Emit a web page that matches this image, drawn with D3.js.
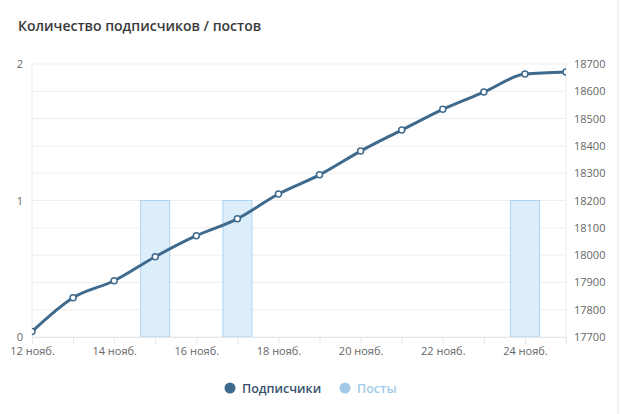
<!DOCTYPE html>
<html>
<head>
<meta charset="utf-8">
<script src="https://cdn.jsdelivr.net/npm/d3@7"></script>
<style>
  body { margin: 0; background: #fff; font-family: "Open Sans", sans-serif; }
  #chart { width: 620px; height: 414px; }
</style>
</head>
<body>
<div id="chart"></div>
<script>
// data
var days = ["12", "13", "14", "15", "16", "17", "18", "19", "20", "21", "22", "23", "24", "25"];
var subscribers = [17720, 17844, 17906, 17994, 18071, 18133, 18224, 18294, 18381, 18458, 18534, 18597, 18663, 18671];
var posts = [0, 0, 0, 1, 0, 1, 0, 0, 0, 0, 0, 0, 1, 0];
var leftTicks = [0, 1, 2];
var rightTicks = [17700, 17800, 17900, 18000, 18100, 18200, 18300, 18400, 18500, 18600, 18700];
var labelDays = ["12", "14", "16", "18", "20", "22", "24"];

var W = 620, H = 414;
var m = {left: 32, right: 54, top: 64, bottom: 77};

var svg = d3.select("#chart").append("svg")
  .attr("width", W).attr("height", H);

// card border on the right
svg.append("line").attr("x1", 618).attr("x2", 618).attr("y1", 0).attr("y2", H)
  .attr("stroke", "#e4e4e4");

svg.append("text")
  .attr("x", 18).attr("y", 31)
  .attr("font-size", 14).attr("font-weight", 600).attr("fill", "#3a3a3a")
  .text("Количество подписчиков / постов");

var x = d3.scalePoint().domain(days).range([m.left, W - m.right]);
var yR = d3.scaleLinear().domain([17700, 18700]).range([H - m.bottom, m.top]);
var yL = d3.scaleLinear().domain([0, 2]).range([H - m.bottom, m.top]);

// grid
svg.append("g").selectAll("line").data(rightTicks).enter().append("line")
  .attr("x1", m.left).attr("x2", W - m.right)
  .attr("y1", function(d){ return yR(d); }).attr("y2", function(d){ return yR(d); })
  .attr("stroke", "#eeeeee");
svg.append("g").selectAll("line").data([m.left, W - m.right]).enter().append("line")
  .attr("x1", function(d){ return d; }).attr("x2", function(d){ return d; })
  .attr("y1", m.top - 2).attr("y2", H - m.bottom)
  .attr("stroke", "#eaeaea");

// x axis
var xAxis = svg.append("g").attr("transform", "translate(0," + (H - m.bottom) + ")")
  .call(d3.axisBottom(x).tickSize(7).tickPadding(3)
    .tickFormat(function(d){ return labelDays.indexOf(d) >= 0 ? d + " нояб." : ""; }));
xAxis.select(".domain").attr("stroke", "#e6e6e6");
xAxis.selectAll(".tick line").attr("stroke", "#e6e6e6");
xAxis.selectAll("text").attr("font-size", 11).attr("fill", "#666").attr("font-family", "Open Sans");

// left axis
var lAxis = svg.append("g").attr("transform", "translate(" + 25 + ",0)")
  .call(d3.axisLeft(yL).tickValues(leftTicks).tickSize(0).tickPadding(0).tickFormat(d3.format("d")));
lAxis.select(".domain").remove();
lAxis.selectAll("text").attr("font-size", 11).attr("fill", "#666").attr("font-family", "Open Sans")
  .attr("text-anchor", "middle").attr("x", -5);

// right axis
var rAxis = svg.append("g").attr("transform", "translate(" + (W - m.right) + ",0)")
  .call(d3.axisRight(yR).tickValues(rightTicks).tickSize(0).tickPadding(8).tickFormat(d3.format("d")));
rAxis.select(".domain").remove();
rAxis.selectAll("text").attr("font-size", 11).attr("fill", "#666").attr("font-family", "Open Sans");

// clip
svg.append("clipPath").attr("id", "plot").append("rect")
  .attr("x", m.left).attr("y", m.top - 10)
  .attr("width", W - m.left - m.right).attr("height", H - m.top - m.bottom + 10);

var plot = svg.append("g").attr("clip-path", "url(#plot)");

var bw = 29;
plot.selectAll("rect.bar").data(days.filter(function(d, i){ return posts[i] > 0; }))
  .enter().append("rect").attr("class", "bar")
  .attr("x", function(d){ return x(d) - bw / 2; })
  .attr("y", function(d){ return yL(posts[days.indexOf(d)]); })
  .attr("width", bw)
  .attr("height", function(d){ return yL(0) - yL(posts[days.indexOf(d)]); })
  .attr("fill", "#ddeefb").attr("stroke", "#acd3f0").attr("stroke-width", 1);

var line = d3.line()
  .x(function(d, i){ return x(days[i]); })
  .y(function(d){ return yR(d); })
  .curve(d3.curveMonotoneX);

plot.append("path").datum(subscribers)
  .attr("d", line).attr("fill", "none")
  .attr("stroke", "#3e6a8e").attr("stroke-width", 3);

plot.selectAll("circle").data(subscribers).enter().append("circle")
  .attr("cx", function(d, i){ return x(days[i]); })
  .attr("cy", function(d){ return yR(d); })
  .attr("r", 3)
  .attr("fill", "#fff").attr("stroke", "#3e6a8e").attr("stroke-width", 1.5);

// legend
var legend = [
  {name: "Подписчики", dot: "#3e6a8e", text: "#34506b", x: 230},
  {name: "Посты", dot: "#a2c9e5", text: "#a2c9e5", x: 345}
];
var lg = svg.append("g").selectAll("g").data(legend).enter().append("g");
lg.append("circle").attr("cx", function(d){ return d.x; }).attr("cy", 388).attr("r", 5.5)
  .attr("fill", function(d){ return d.dot; });
lg.append("text").attr("x", function(d){ return d.x + 12; }).attr("y", 393)
  .attr("font-size", 12.5).attr("font-weight", 600)
  .attr("fill", function(d){ return d.text; })
  .text(function(d){ return d.name; });
</script>
</body>
</html>
